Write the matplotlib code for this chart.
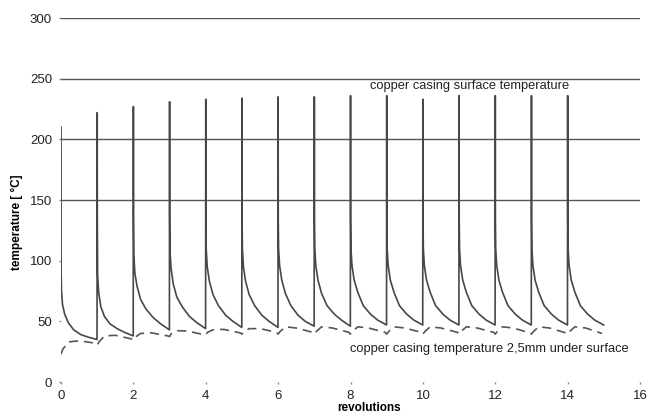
import matplotlib.pyplot as plt
import numpy as np

plt.rcParams["font.family"] = ["Liberation Sans", "DejaVu Sans"]

# surface temperature: one cycle per revolution, values read at these phase offsets
surf_phase = [0.0, 0.003, 0.012, 0.04, 0.1, 0.2, 0.35, 0.55, 0.75, 0.995]
surf_cycles = [
    [210, 90, 76, 64, 56, 49, 43, 39, 37, 35],
    [222, 136, 88, 74, 62, 54, 48, 44, 41, 38],
    [227, 135, 105, 90, 79, 68, 60, 53, 48, 43],
    [231, 135, 108, 94, 81, 70, 62, 54, 49, 44],
    [233, 135, 110, 95, 83, 72, 63, 55, 50, 45],
    [234, 135, 110, 95, 83, 72, 63, 55, 50, 45],
    [235, 135, 110, 96, 84, 73, 63, 55, 50, 46],
    [235, 135, 110, 96, 84, 73, 63, 56, 51, 46],
    [236, 135, 110, 96, 84, 74, 63, 56, 51, 47],
    [236, 135, 110, 96, 84, 74, 63, 56, 51, 47],
    [233, 135, 110, 96, 84, 74, 63, 56, 51, 47],
    [236, 135, 110, 96, 84, 74, 63, 56, 51, 47],
    [236, 135, 110, 96, 84, 74, 63, 56, 51, 47],
    [236, 135, 110, 96, 84, 74, 63, 56, 51, 47],
    [236, 135, 110, 96, 84, 74, 63, 56, 51, 47],
]

# temperature 2.5 mm under the surface
sub_phase = [0.0, 0.05, 0.2, 0.5, 0.95]
sub_cycles = [
    [23, 27, 33, 34, 32],
    [30.5, 33, 38, 38.5, 35.5],
    [34.5, 37, 40, 40.5, 38],
    [37.5, 40, 42.3, 42, 39],
    [39, 41, 43, 43.4, 40.5],
    [39.5, 41.5, 44, 44, 41],
    [39.5, 41.5, 45.5, 44.5, 41],
    [39.5, 41.5, 45.5, 44.5, 41],
    [39.5, 41.5, 45.5, 44.5, 41],
    [39.5, 41.5, 45.5, 44.5, 41],
    [39.5, 41.5, 45.5, 44.5, 41],
    [39.5, 41.5, 45.5, 44.5, 41],
    [39.5, 41.5, 45.5, 44.5, 40.5],
    [39.5, 41.5, 45.5, 44.5, 40.5],
    [39.5, 41.5, 45.5, 44.5, 40],
]

x_ticks = [0, 2, 4, 6, 8, 10, 12, 14, 16]
y_ticks = [0, 50, 100, 150, 200, 250, 300]
grid_levels = [150, 200, 250, 300]

surf_x = np.concatenate([k + np.array(surf_phase) for k in range(len(surf_cycles))])
surf_y = np.concatenate(surf_cycles)
sub_x = np.concatenate([k + np.array(sub_phase) for k in range(len(sub_cycles))])
sub_y = np.concatenate(sub_cycles)

fig = plt.figure(figsize=(6.64, 4.16), dpi=100)
ax = fig.add_axes([0.0919, 0.0817, 0.872, 0.875])

for lvl in grid_levels:
    ax.axhline(lvl, color="#555555", lw=1.0, zorder=1)

ax.plot(surf_x, surf_y, color="#474747", lw=1.2, zorder=3)
ax.plot(sub_x, sub_y, color="#555555", lw=1.2, dashes=(5.5, 3.5), zorder=3)

ax.text(8.55, 244, "copper casing surface temperature", fontsize=9.3, color="#222222", va="center")
ax.text(7.99, 27, "copper casing temperature 2,5mm under surface", fontsize=9.3, color="#222222", va="center")

ax.set_xlim(0, 16)
ax.set_ylim(0, 300)
ax.set_xticks(x_ticks)
ax.set_yticks(y_ticks)
for s in ax.spines.values():
    s.set_visible(False)
ax.tick_params(axis="both", length=1.5, width=1, color="#888888", labelsize=9.5, labelcolor="#222222")
ax.tick_params(axis="y", pad=5)
ax.tick_params(axis="x", pad=4)

ax.set_xlabel("revolutions", fontsize=8.5, fontweight="bold")
ax.xaxis.set_label_coords(8.5 / 16, -0.0714)
ax.xaxis.label.set_va("center")
ax.set_ylabel("temperature [ °C]", fontsize=8.5, fontweight="bold")
ax.yaxis.set_label_coords(-0.076, 0.44)
ax.yaxis.label.set_va("center")

fig.savefig("out.png", dpi=100)
